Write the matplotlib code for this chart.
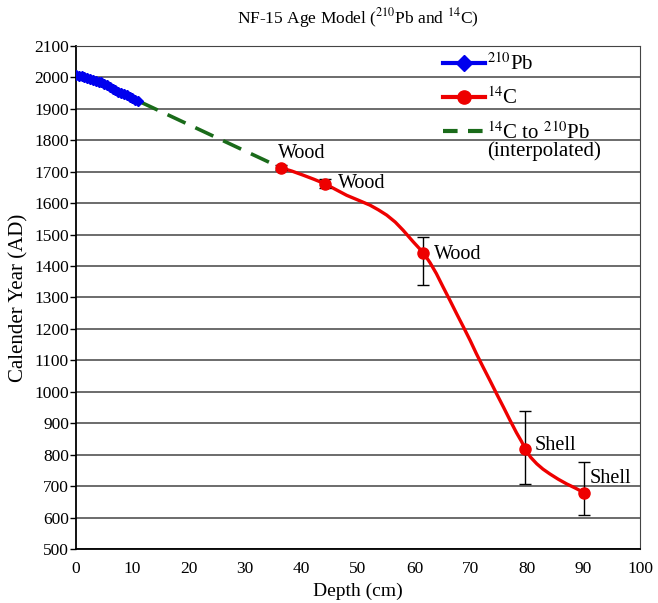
import numpy as np
import matplotlib
matplotlib.use("Agg")
import matplotlib.pyplot as plt
from matplotlib.lines import Line2D

plt.rcParams['font.family'] = ['Liberation Serif', 'DejaVu Serif']
plt.rcParams['mathtext.fontset'] = 'stix'

# 210Pb ages (depth cm, year AD)
pb_depth = [0, 0.5, 1, 1.5, 2, 2.5, 3, 3.5, 4, 4.5, 5, 5.5, 6, 6.5, 7, 7.5,
            8, 8.5, 9, 9.5, 10, 10.5, 11]
pb_year = [2007, 2006, 2004, 2002, 1999, 1996, 1993, 1990, 1987, 1984, 1980,
           1976, 1970, 1964, 1959, 1955, 1951, 1947, 1943, 1939, 1934, 1929, 1924]

# 14C dated samples
c14_depth = [36.3, 44.1, 61.6, 79.6, 90.1]
c14_year = [1713, 1662, 1442, 818, 679]
c14_err_up = [8, 14, 49, 120, 99]
c14_err_dn = [8, 14, 101, 110, 71]
c14_material = ['Wood', 'Wood', 'Wood', 'Shell', 'Shell']

# smoothed age-depth curve through 14C samples
curve_depth = [36.3, 38.3, 40.3, 42.2, 44.1, 46.0, 48.0, 50.0, 52.1, 53.6,
               55.1, 56.6, 58.0, 59.8, 61.6, 62.8, 63.9, 65.1, 66.3, 67.5,
               68.7, 69.9, 71.0, 72.2, 73.4, 74.6, 75.8, 77.0, 78.1, 79.0,
               79.6, 80.6, 81.7, 82.8, 84.0, 85.5, 87.0, 88.5, 90.1]
curve_year = [1713, 1702, 1689, 1676, 1662, 1644, 1625, 1610, 1594, 1579,
              1562, 1540, 1514, 1477, 1442, 1410, 1376, 1333, 1291, 1248,
              1206, 1163, 1121, 1078, 1036, 993, 951, 908, 870, 842,
              820, 792, 771, 754, 739, 722, 707, 694, 679]

# interpolated link between 14C and 210Pb
interp_depth = [11.3, 36.3]
interp_year = [1923, 1713]

fig = plt.figure(figsize=(6.58, 6.03), dpi=100)
ax = fig.add_axes([0.1155, 0.0896, 0.8571, 0.8341])

ax.plot(interp_depth, interp_year, color='#1a6b1a', lw=2.6, dashes=(5.5, 3),
        zorder=3)
ax.plot(curve_depth, curve_year, color='#ee0000', lw=2.4, zorder=3,
        solid_joinstyle='round')
ax.errorbar(c14_depth, c14_year, yerr=[c14_err_dn, c14_err_up], fmt='none',
            ecolor='black', elinewidth=1, capsize=4, capthick=1, zorder=4)
ax.plot(c14_depth, c14_year, 'o', color='#ee0000', markersize=8, zorder=5)
ax.plot(pb_depth, pb_year, color='#0000ee', lw=2, marker='D', markersize=5.5,
        zorder=5)

label_off = [(-0.5, 46), (2.4, 1), (1.9, -4), (1.8, 11), (1.0, 45)]
for d, y, m, (dx, dy) in zip(c14_depth, c14_year, c14_material, label_off):
    ax.text(d + dx, y + dy, m, fontsize=14.5, va='center', ha='left', zorder=6)

ax.set_xlim(0, 100)
ax.set_ylim(500, 2100)
ax.set_xticks(np.arange(0, 101, 10))
ax.set_yticks(np.arange(500, 2101, 100))
ax.tick_params(axis='x', length=0, pad=9, labelsize=12.5)
ax.tick_params(axis='y', length=4, width=1, direction='out', pad=1,
               labelsize=12.5)
ax.grid(axis='y', color='#444444', lw=1.1)
ax.set_axisbelow(True)
for side in ['left', 'bottom']:
    ax.spines[side].set_linewidth(1.3)
for side in ['right', 'top']:
    ax.spines[side].set_color('#444444')

ax.set_xlabel('Depth (cm)', fontsize=14, labelpad=4)
ax.set_ylabel('Calender Year (AD)', fontsize=15, labelpad=4)
ax.set_title('NF-15 Age Model ($^{210}$Pb and $^{14}$C)', fontsize=12.5,
             pad=16)

handles = [
    Line2D([], [], color='#0000ee', lw=3, marker='D', markersize=8),
    Line2D([], [], color='#ee0000', lw=3, marker='o', markersize=9.5),
    Line2D([], [], color='#1a6b1a', lw=3, dashes=(3.5, 2.5)),
]
labels = ['$^{210}$Pb', '$^{14}$C', '$^{14}$C to $^{210}$Pb']
ax.legend(handles, labels, loc='upper left', bbox_to_anchor=(0.651, 0.985),
          frameon=False, fontsize=15, handlelength=2.0, handletextpad=0.1,
          labelspacing=0.6, borderpad=0, borderaxespad=0)
ax.text(0.729, 0.790, '(interpolated)', transform=ax.transAxes, fontsize=15,
        va='center', ha='left')

fig.savefig('out.png', dpi=100)
